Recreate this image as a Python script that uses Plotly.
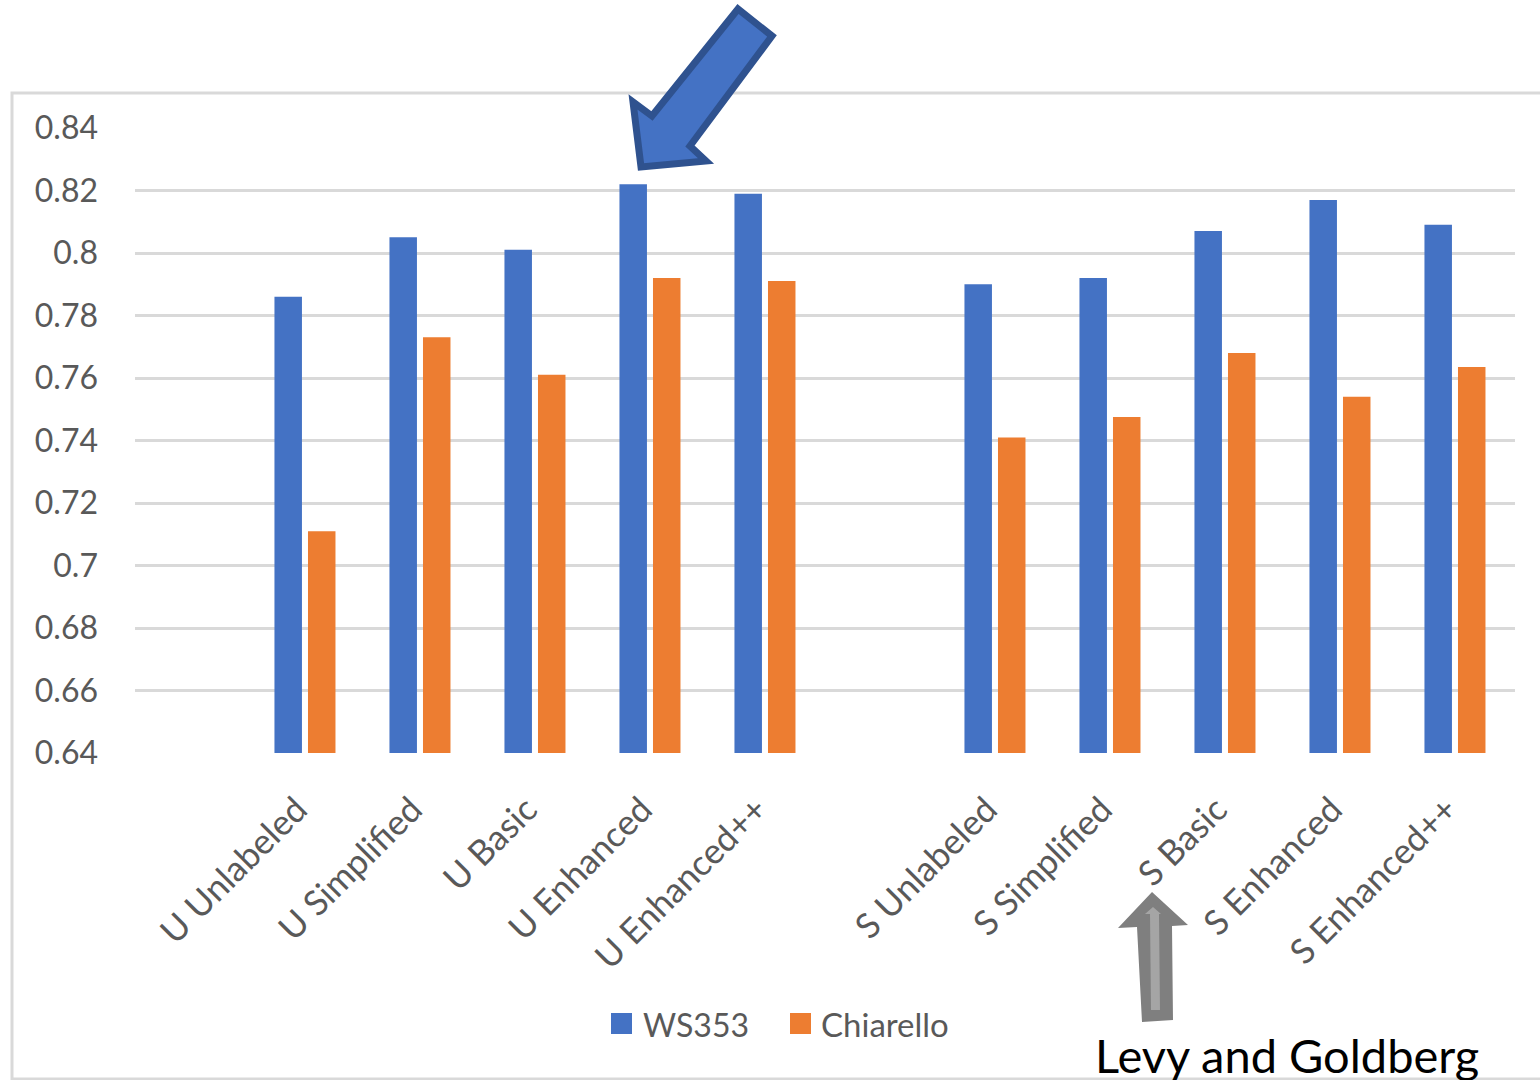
import plotly.graph_objects as go

# Category slots along the x axis (empty strings are spacer slots)
slots = ["", "U Unlabeled", "U Simplified", "U Basic", "U Enhanced", "U Enhanced++",
         "", "S Unlabeled", "S Simplified", "S Basic", "S Enhanced", "S Enhanced++"]
labels = [s for s in slots if s]
x_pos = [i for i, s in enumerate(slots) if s]

ws353 = [0.786, 0.805, 0.801, 0.822, 0.819, 0.790, 0.792, 0.807, 0.817, 0.809]
chiarello = [0.711, 0.773, 0.761, 0.792, 0.791, 0.741, 0.7475, 0.768, 0.754, 0.7635]

y_ticks = [0.64, 0.66, 0.68, 0.70, 0.72, 0.74, 0.76, 0.78, 0.80, 0.82, 0.84]
y_tick_text = ["0.64", "0.66", "0.68", "0.7", "0.72", "0.74", "0.76", "0.78", "0.8", "0.82", "0.84"]

BLUE = "#4472C4"
ORANGE = "#ED7D31"
GRID = "#D9D9D9"
TEXT = "#595959"
FONT = "Lato"

W, H = 1540, 1080
L, R, T, B = 135, 25, 128, 327
PW, PH = W - L - R, H - T - B


def px(x):
    """Page pixel x -> paper fraction."""
    return (x - L) / PW


def py(y):
    """Page pixel y -> paper fraction."""
    return (H - B - y) / PH


def path(points):
    return "M " + " L ".join(f"{px(x):.5f},{py(y):.5f}" for x, y in points) + " Z"


fig = go.Figure()
fig.add_trace(go.Bar(x=x_pos, y=ws353, name="WS353", marker_color=BLUE,
                     marker_line_width=0, showlegend=False))
fig.add_trace(go.Bar(x=x_pos, y=chiarello, name="Chiarello", marker_color=ORANGE,
                     marker_line_width=0, showlegend=False))

shapes = []
# outer chart border
shapes.append(dict(type="rect", xref="paper", yref="paper",
                   x0=px(12), x1=px(1560), y0=py(1079), y1=py(93),
                   line=dict(color=GRID, width=3), layer="below"))

# blue callout arrow
shapes.append(dict(type="path", xref="paper", yref="paper",
                   path=path([(738, 9), (772, 36), (690, 146), (706, 161),
                              (641, 167), (633, 102), (652, 116)]),
                   fillcolor=BLUE, line=dict(color="#2F528F", width=7)))

# grey callout arrow (outer body + lighter inner stripe)
shapes.append(dict(type="path", xref="paper", yref="paper",
                   path=path([(1152, 892), (1188, 925), (1172, 926), (1173, 1020),
                              (1142, 1022), (1137, 927), (1118, 928)]),
                   fillcolor="#7F7F7F", line=dict(width=0)))
shapes.append(dict(type="path", xref="paper", yref="paper",
                   path=path([(1153, 907), (1161, 914), (1159, 914), (1160, 1010),
                              (1151, 1010), (1150, 914), (1145, 914)]),
                   fillcolor="#A5A5A5", line=dict(width=0)))

# legend swatches
shapes.append(dict(type="rect", xref="paper", yref="paper",
                   x0=px(611), x1=px(632), y0=py(1034), y1=py(1013),
                   fillcolor=BLUE, line=dict(width=0)))
shapes.append(dict(type="rect", xref="paper", yref="paper",
                   x0=px(790), x1=px(811), y0=py(1034), y1=py(1013),
                   fillcolor=ORANGE, line=dict(width=0)))

annotations = [
    dict(text="WS353", xref="paper", yref="paper", x=px(641), y=py(1024),
         xanchor="left", yanchor="middle", showarrow=False,
         font=dict(family=FONT, size=32, color=TEXT)),
    dict(text="Chiarello", xref="paper", yref="paper", x=px(819), y=py(1024),
         xanchor="left", yanchor="middle", showarrow=False,
         font=dict(family=FONT, size=33, color=TEXT)),
    dict(text="Levy and Goldberg", xref="paper", yref="paper", x=px(1093), y=py(1055),
         xanchor="left", yanchor="middle", showarrow=False,
         font=dict(family=FONT, size=47, color="#000000")),
]

fig.update_layout(
    width=W, height=H, autosize=False,
    margin=dict(l=L, r=R, t=T, b=B, pad=0),
    paper_bgcolor="white", plot_bgcolor="white",
    barmode="group", bargap=0.417, bargroupgap=0.18,
    font=dict(family=FONT, color=TEXT),
    shapes=shapes, annotations=annotations,
    showlegend=False,
)

fig.update_xaxes(
    range=[-0.478, len(slots) - 0.478],
    tickmode="array", tickvals=x_pos, ticktext=labels,
    tickangle=-45, tickfont=dict(family=FONT, size=35, color=TEXT),
    ticks="", showgrid=False, zeroline=False,
    showline=False, ticklabelstandoff=28, ticklabelshift=-8, automargin=False,
)
fig.update_yaxes(
    range=[0.64, 0.84],
    tickmode="array", tickvals=y_ticks, ticktext=y_tick_text,
    tickfont=dict(family=FONT, size=32, color=TEXT),
    ticks="", showgrid=True, gridcolor=GRID, gridwidth=3,
    zeroline=False, showline=False, ticklabelstandoff=36, automargin=False,
)

fig.write_html("out.html")
